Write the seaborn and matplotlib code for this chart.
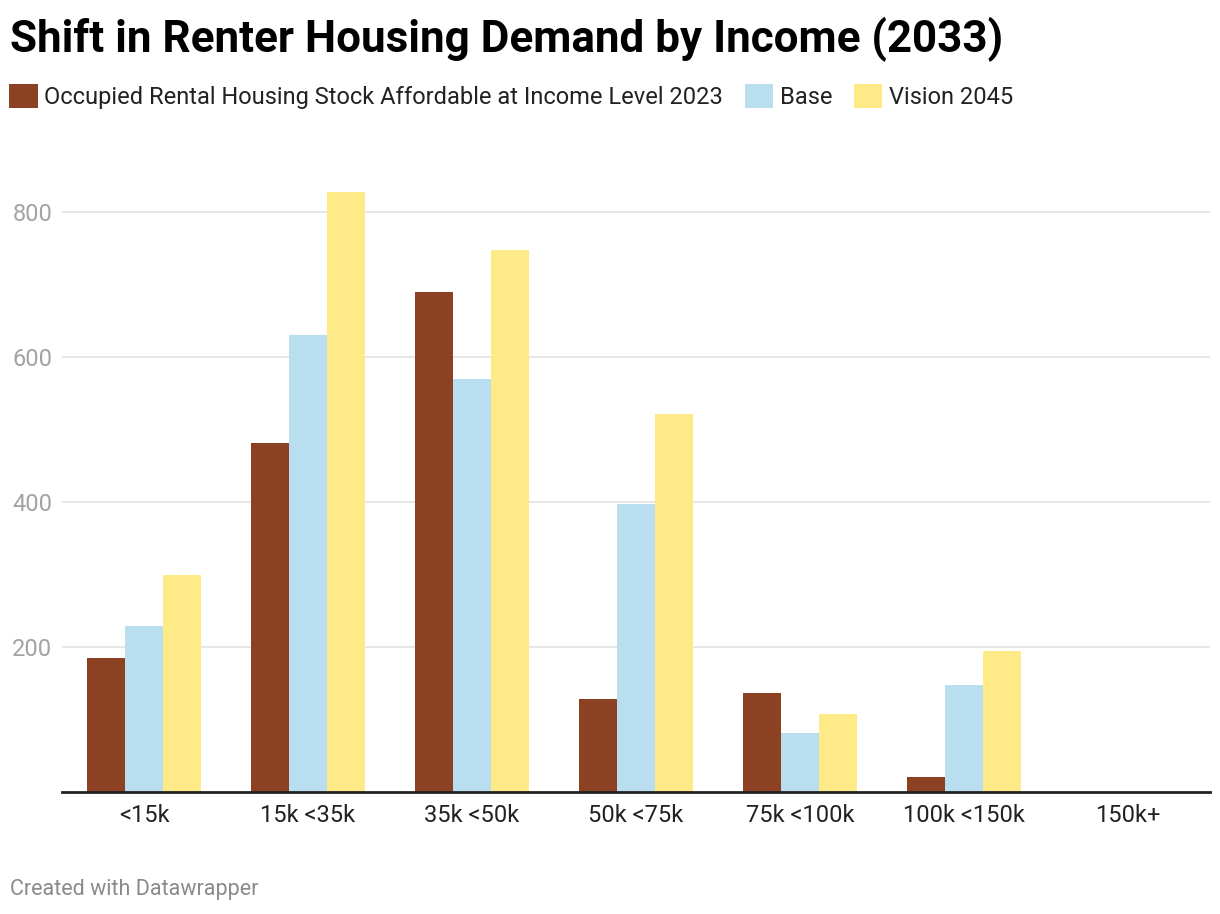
import matplotlib
matplotlib.use("Agg")
import matplotlib.pyplot as plt
import seaborn as sns
import pandas as pd

categories = ["<15k", "15k <35k", "35k <50k", "50k <75k", "75k <100k", "100k <150k", "150k+"]
series_names = ["Occupied Rental Housing Stock Affordable at Income Level 2023", "Base", "Vision 2045"]
occupied_2023 = [185, 481, 690, 128, 137, 21, 0]
base = [229, 630, 570, 397, 82, 148, 0]
vision_2045 = [300, 828, 748, 521, 108, 195, 0]
y_ticks = [200, 400, 600, 800]
colors = ["#8c4123", "#b9deef", "#feea87"]

rows = []
for name, vals in zip(series_names, [occupied_2023, base, vision_2045]):
    for c, v in zip(categories, vals):
        rows.append({"cat": c, "series": name, "value": v})
df = pd.DataFrame(rows)

sns.set_theme(style="white")
plt.rcParams["font.family"] = ["Roboto", "DejaVu Sans"]

fig = plt.figure(figsize=(12.2, 9.14), dpi=100)
ax = fig.add_axes([62 / 1220, 1 - 792 / 914, (1210 - 62) / 1220, (792 - 176) / 914])

sns.barplot(data=df, x="cat", y="value", hue="series", order=categories,
            hue_order=series_names, palette=colors, width=0.7, saturation=1,
            linewidth=0, ax=ax, legend=True)

ax.set_ylim(0, 850)
ax.set_xlim(-0.5, len(categories) - 0.5)
ax.set_yticks(y_ticks)
ax.set_yticklabels([str(t) for t in y_ticks])
ax.yaxis.grid(True, color="#e3e3e3", linewidth=1.2)
ax.set_axisbelow(True)
ax.set_xlabel("")
ax.set_ylabel("")
for s in ["top", "right", "left"]:
    ax.spines[s].set_visible(False)
ax.spines["bottom"].set_color("#222222")
ax.spines["bottom"].set_linewidth(2)
ax.tick_params(axis="y", length=0, labelsize=17, labelcolor="#a3a3a3", pad=7)
ax.tick_params(axis="x", length=0, labelsize=17, labelcolor="#222222", pad=9)

# legend
handles, labels = ax.get_legend_handles_labels()
ax.legend_.remove()
leg = fig.legend(handles, labels, loc="upper left", bbox_to_anchor=(0 / 1220, 1 - 75 / 914),
                 ncol=3, frameon=False, fontsize=17, handlelength=1.19, handleheight=1.19,
                 handletextpad=0.28, columnspacing=0.93, borderaxespad=0)
for t in leg.get_texts():
    t.set_color("#222222")

fig.text(10 / 1220, 1 - 52 / 914, "Shift in Renter Housing Demand by Income (2033)",
         fontsize=31.7, fontweight="bold", color="#000000", ha="left", va="baseline")
fig.text(10 / 1220, 1 - 895 / 914, "Created with Datawrapper",
         fontsize=15.5, color="#8a8a8a", ha="left", va="baseline")

fig.savefig("out.png", dpi=100, facecolor="white")
